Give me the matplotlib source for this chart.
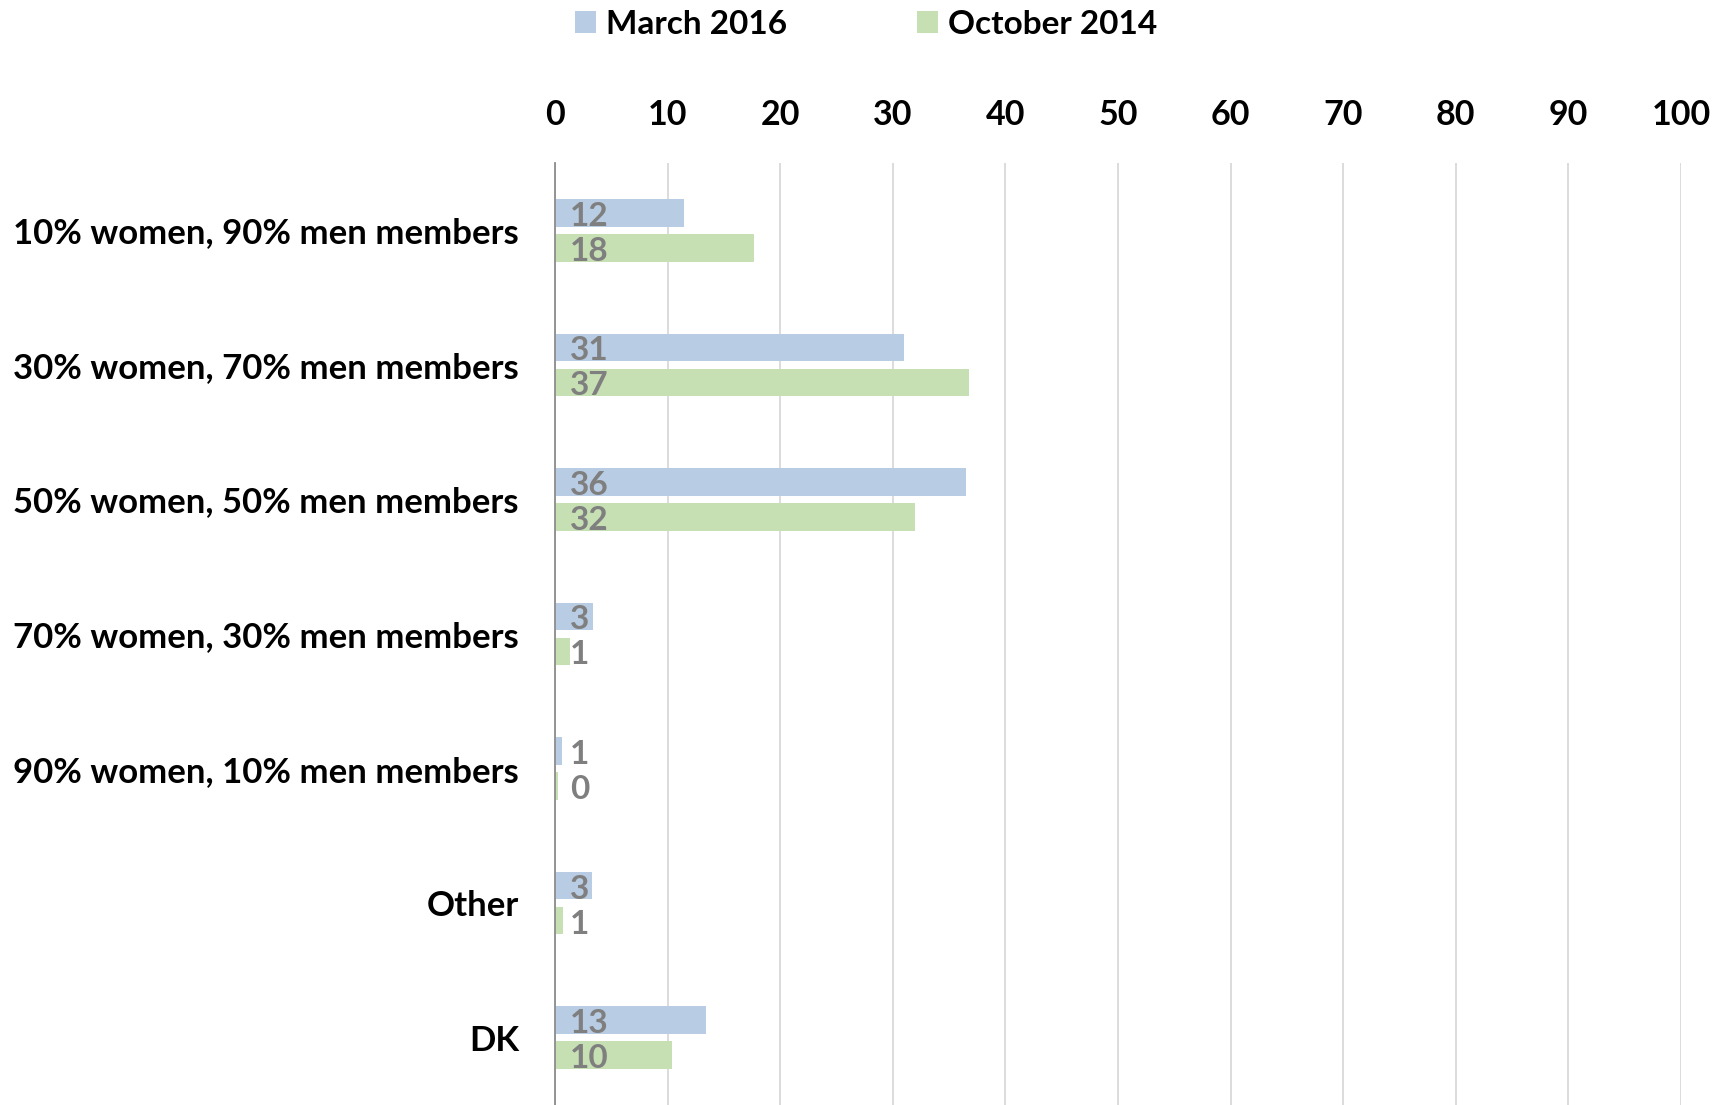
import matplotlib
matplotlib.use("Agg")
import matplotlib.pyplot as plt
from matplotlib.patches import Patch
import numpy as np

# data (percent)
categories = ["10% women, 90% men members", "30% women, 70% men members",
              "50% women, 50% men members", "70% women, 30% men members",
              "90% women, 10% men members", "Other", "DK"]
march_2016 = [11.5, 31.0, 36.5, 3.4, 0.6, 3.3, 13.4]
october_2014 = [17.7, 36.8, 32.0, 1.3, 0.3, 0.7, 10.4]
march_labels = ["12", "31", "36", "3", "1", "3", "13"]
october_labels = ["18", "37", "32", "1", "0", "1", "10"]
x_ticks = list(range(0, 101, 10))

plt.rcParams['font.family'] = ['Lato', 'DejaVu Sans']
plt.rcParams['font.weight'] = 'bold'

c_blue = "#b8cce4"
c_green = "#c6e0b4"
c_label = "#7f7f7f"

fig = plt.figure(figsize=(17.31, 11.05), dpi=100)
ax = fig.add_axes([555 / 1731, 0.0, 1126 / 1731, 1 - 163 / 1105])

y = np.arange(len(categories))
h = 0.205
ax.barh(y - 0.13, march_2016, height=h, color=c_blue, zorder=2)
ax.barh(y + 0.13, october_2014, height=h, color=c_green, zorder=2)

# value labels sit at the bar base, like the original
for i in range(len(categories)):
    ax.text(1.35, y[i] - 0.105, march_labels[i], ha='left', va='center',
            fontsize=24, fontweight='bold', color=c_label, zorder=3)
    ax.text(1.35, y[i] + 0.155, october_labels[i], ha='left', va='center',
            fontsize=24, fontweight='bold', color=c_label, zorder=3)

ax.set_xlim(0, 100)
ax.set_ylim(len(categories) - 0.5, -0.5)
ax.set_xticks(x_ticks)
ax.set_xticklabels([str(t) for t in x_ticks])
ax.xaxis.tick_top()
ax.tick_params(axis='x', length=0, pad=23, labelsize=24.5)
ax.set_yticks(y)
ax.set_yticklabels(categories)
ax.tick_params(axis='y', length=0, pad=26, labelsize=25)

ax.grid(axis='x', color="#d9d9d9", linewidth=1.3, zorder=0)
for s in ["top", "right", "bottom"]:
    ax.spines[s].set_visible(False)
ax.spines["left"].set_color("#8c8c8c")
ax.spines["left"].set_linewidth(1.3)
ax.spines["left"].set_zorder(4)

handles = [Patch(facecolor=c_blue, label="March 2016"),
           Patch(facecolor=c_green, label="October 2014")]
fig.legend(handles=handles, loc='center', bbox_to_anchor=(866 / 1731, 1 - 24 / 1105),
           ncol=2, frameon=False, fontsize=24, handlelength=0.63, handleheight=0.63,
           handletextpad=0.3, columnspacing=3.9, borderaxespad=0)

fig.savefig("out.png", dpi=100)
